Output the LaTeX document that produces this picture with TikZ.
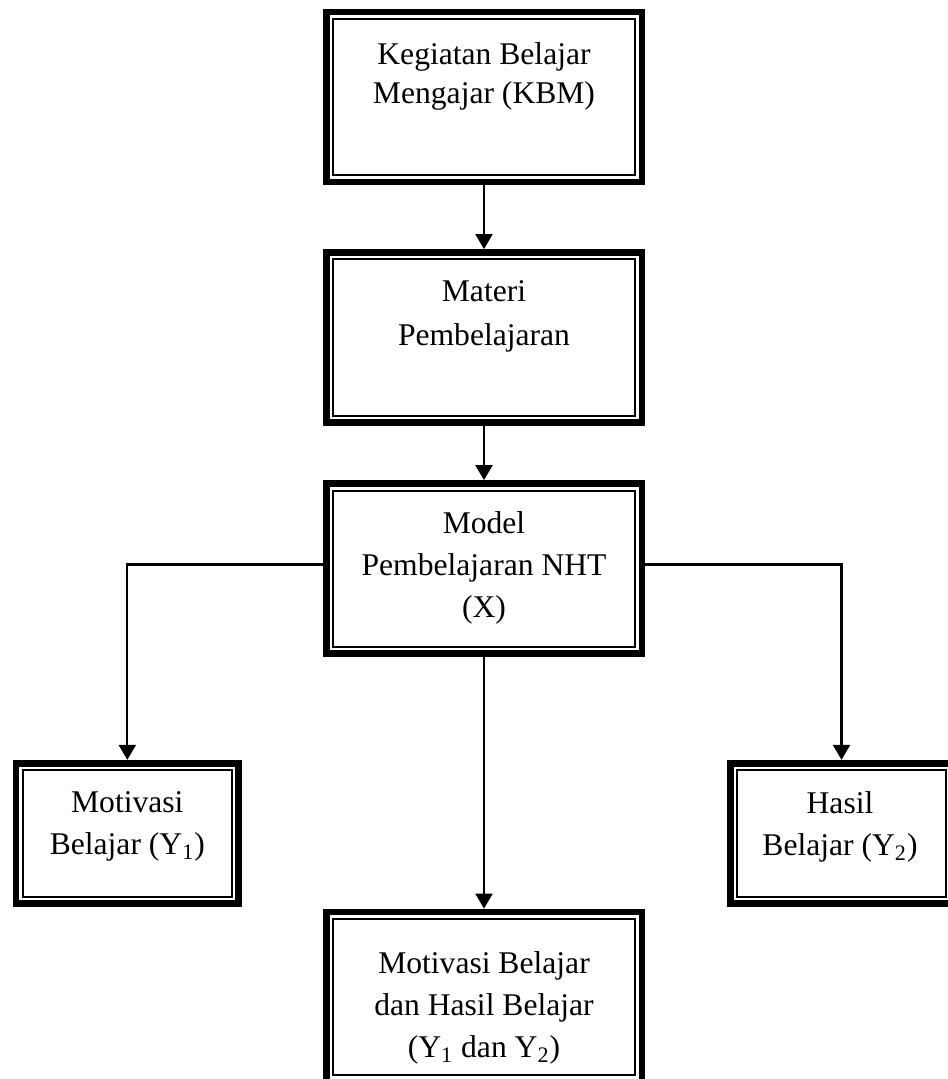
\documentclass[tikz,border=0pt]{standalone}
\usepackage{fontspec}
\setmainfont{Liberation Serif}
\usetikzlibrary{arrows.meta}

\begin{document}
\begin{tikzpicture}[x=0.5pt, y=-0.5pt, >={Triangle[width=8.5pt,length=7.5pt]},
	kotak/.style={draw, line width=3.4pt, minimum width=157.9pt, minimum height=85pt, inner sep=0pt,
		path picture={\draw[line width=1pt]
			([shift={(3.5pt,3.5pt)}]path picture bounding box.south west) rectangle
			([shift={(-3.5pt,-3.5pt)}]path picture bounding box.north east);}},
	kotakkecil/.style={kotak, minimum width=111.4pt, minimum height=70.25pt},
	teks/.style={font=\fontsize{15.8}{21}\selectfont, align=center, inner sep=0pt, anchor=north},
	panah/.style={->, line width=1.1pt}]
\useasboundingbox (0,0) rectangle (947,1079);
%========================
% Boxes
%========================
\node[kotak] (kbm) at (484,97) {};
\node[kotak] (materi) at (484,337.5) {};
\node[kotak] (model) at (484,568.5) {};
\node[kotakkecil] (motivasi) at (127.3,833.5) {};
\node[kotakkecil] (hasil) at (841.5,833.5) {};
\node[kotak] (gabungan) at (484,997) {};
% texts
\node[teks, font=\fontsize{15.8}{19.5}\selectfont] (kbm-teks) at (484,42.5) {Kegiatan Belajar\\Mengajar (KBM)};
\node[teks, font=\fontsize{15.8}{22}\selectfont] (materi-teks) at (484,280.5) {Materi\\Pembelajaran};
\node[teks] (model-teks) at (484,511.5) {Model\\Pembelajaran NHT\\(X)};
\node[teks] (motivasi-teks) at (127.3,791.5) {Motivasi\\Belajar (Y\textsubscript{1})};
\node[teks] (hasil-teks) at (840,791.5) {Hasil\\Belajar (Y\textsubscript{2})};
\node[teks] (gabungan-teks) at (484,951.5) {Motivasi Belajar\\dan Hasil Belajar\\(Y\textsubscript{1} dan Y\textsubscript{2})};
%========================
% Arrows
%========================
\draw[panah] (kbm.south) -- (materi.north);
\draw[panah] (materi.south) -- (model.north);
\draw[panah] (model.south) -- (gabungan.north);
\draw[panah] ([yshift=2pt]model.west) -| (motivasi.north);
\draw[panah] ([yshift=2pt]model.east) -| (hasil.north);
\end{tikzpicture}
\end{document}
